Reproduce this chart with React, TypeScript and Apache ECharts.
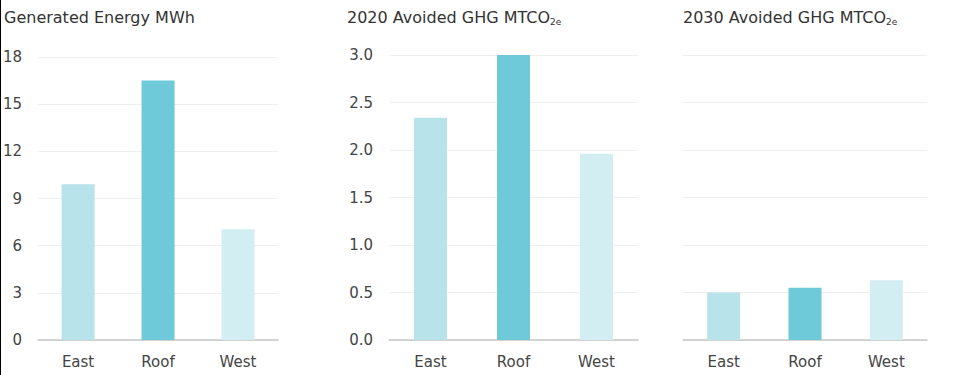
import React, { useEffect, useRef } from "react";
import * as echarts from "echarts";

const categories = ["East", "Roof", "West"];
const generatedEnergy = [9.9, 16.5, 7.05];
const avoided2020 = [2.34, 3.0, 1.96];
const avoided2030 = [0.5, 0.55, 0.63];
const barColors = ["#b8e3ea", "#6ecad8", "#d3eef2"];

const FONT = "DejaVu Sans";

export default function App() {
  const ref = useRef<HTMLDivElement>(null);
  useEffect(() => {
    const chart = echarts.init(ref.current!, null, { renderer: "svg" });
    const grids = [
      { left: 37, top: 57, width: 241, height: 283 },
      { left: 389, top: 55, width: 249, height: 285 },
      { left: 683, top: 55, width: 244, height: 285 },
    ];
    const yAxes = [
      { min: 0, max: 18, interval: 3, show: true, fmt: (v: number) => String(v) },
      { min: 0, max: 3, interval: 0.5, show: true, fmt: (v: number) => v.toFixed(1) },
      { min: 0, max: 3, interval: 0.5, show: false, fmt: (v: number) => v.toFixed(1) },
    ];
    const datasets = [generatedEnergy, avoided2020, avoided2030];
    const titleStyle = {
      fontFamily: FONT,
      fontSize: 16,
      fontWeight: "normal",
      color: "#333",
      rich: {
        sub: { fontSize: 9, fontFamily: FONT, color: "#333", verticalAlign: "bottom", padding: [8, 0, 0, 0] },
      },
    };
    chart.setOption({
      animation: false,
      title: [
        { text: "Generated Energy MWh", left: 4, top: 9, padding: 0, textStyle: titleStyle },
        { text: "2020 Avoided GHG MTCO{sub|2e}", left: 347, top: 9, padding: 0, textStyle: titleStyle },
        { text: "2030 Avoided GHG MTCO{sub|2e}", left: 683, top: 9, padding: 0, textStyle: titleStyle },
      ],
      grid: grids,
      xAxis: grids.map((_, i) => ({
        type: "category",
        gridIndex: i,
        data: categories,
        axisTick: { show: false },
        axisLine: { lineStyle: { color: "#c8c8c8", width: 1.5 } },
        axisLabel: { color: "#444", fontFamily: FONT, fontSize: 15, margin: 14 },
      })),
      yAxis: yAxes.map((y, i) => ({
        type: "value",
        gridIndex: i,
        min: y.min,
        max: y.max,
        interval: y.interval,
        axisLine: { show: false },
        axisTick: { show: false },
        axisLabel: { show: y.show, color: "#444", fontFamily: FONT, fontSize: 15, margin: 16, formatter: y.fmt },
        splitLine: { lineStyle: { color: "#eeeeee", width: 1 } },
      })),
      series: datasets.map((d, i) => ({
        type: "bar",
        xAxisIndex: i,
        yAxisIndex: i,
        barWidth: 33,
        data: d.map((v, j) => ({ value: v, itemStyle: { color: barColors[j] } })),
      })),
      graphic: [
        { type: "line", shape: { x1: 0.5, y1: 0, x2: 0.5, y2: 375 }, style: { stroke: "#000", lineWidth: 1 } },
      ],
    });
    return () => chart.dispose();
  }, []);
  return <div ref={ref} style={{ position: "fixed", left: 0, top: 0, width: 974, height: 375, background: "#fff" }} />;
}
